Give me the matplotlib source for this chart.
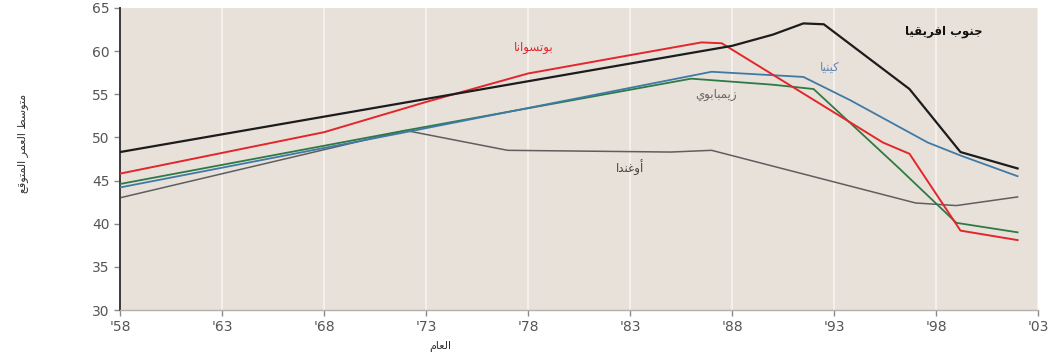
import matplotlib
matplotlib.use('Agg')
import matplotlib.pyplot as plt

plt.rcParams['font.family'] = ['DejaVu Sans']

# ---- data ----
sa_years = [1958, 1988, 1990, 1991.5, 1992.5, 1996.7, 1999.2, 2002]
sa_vals = [48.3, 60.6, 61.9, 63.2, 63.1, 55.6, 48.3, 46.4]

bw_years = [1958, 1968, 1973, 1978, 1982, 1986.5, 1987.5, 1995.4, 1996.7, 1999.2, 2002]
bw_vals = [45.8, 50.6, 54.1, 57.4, 59.1, 61.0, 60.9, 49.4, 48.1, 39.2, 38.1]

ke_years = [1958, 1972, 1987, 1991.5, 1993.8, 1997.6, 1999.2, 2002]
ke_vals = [44.2, 50.6, 57.6, 57.0, 54.3, 49.4, 47.9, 45.5]

zw_years = [1958, 1972, 1986, 1990, 1992, 1996.2, 1999, 2002]
zw_vals = [44.6, 50.8, 56.8, 56.1, 55.6, 46.4, 40.1, 39.0]

ug_years = [1958, 1972, 1977, 1985, 1987, 1997, 1999, 2002]
ug_vals = [43.0, 50.8, 48.5, 48.3, 48.5, 42.4, 42.1, 43.1]

x_ticks = [1958, 1963, 1968, 1973, 1978, 1983, 1988, 1993, 1998, 2003]
x_tick_labels = ["'58", "'63", "'68", "'73", "'78", "'83", "'88", "'93", "'98", "'03"]
y_ticks = [30, 35, 40, 45, 50, 55, 60, 65]

label_sa = 'جنوب افريقيا'
label_bw = 'بوتسوانا'
label_ke = 'كينيا'
label_zw = 'زيمبابوي'
label_ug = 'أوغندا'
x_title = 'العام'
y_title = 'متوسط العمر المتوقع'

# ---- very small arabic shaper (matplotlib has no bidi / shaping) ----
FORMS = {
    'ا': (0xFE8D, 0xFE8E, None, None),
    'أ': (0xFE83, 0xFE84, None, None),
    'ب': (0xFE8F, 0xFE90, 0xFE91, 0xFE92),
    'ت': (0xFE95, 0xFE96, 0xFE97, 0xFE98),
    'ج': (0xFE9D, 0xFE9E, 0xFE9F, 0xFEA0),
    'د': (0xFEA9, 0xFEAA, None, None),
    'ر': (0xFEAD, 0xFEAE, None, None),
    'ز': (0xFEAF, 0xFEB0, None, None),
    'س': (0xFEB1, 0xFEB2, 0xFEB3, 0xFEB4),
    'ط': (0xFEC1, 0xFEC2, 0xFEC3, 0xFEC4),
    'ع': (0xFEC9, 0xFECA, 0xFECB, 0xFECC),
    'غ': (0xFECD, 0xFECE, 0xFECF, 0xFED0),
    'ف': (0xFED1, 0xFED2, 0xFED3, 0xFED4),
    'ق': (0xFED5, 0xFED6, 0xFED7, 0xFED8),
    'ك': (0xFED9, 0xFEDA, 0xFEDB, 0xFEDC),
    'ل': (0xFEDD, 0xFEDE, 0xFEDF, 0xFEE0),
    'م': (0xFEE1, 0xFEE2, 0xFEE3, 0xFEE4),
    'ن': (0xFEE5, 0xFEE6, 0xFEE7, 0xFEE8),
    'و': (0xFEED, 0xFEEE, None, None),
    'ي': (0xFEF1, 0xFEF2, 0xFEF3, 0xFEF4),
}


def ar(text):
    out = []
    for i, c in enumerate(text):
        if c not in FORMS:
            out.append(c)
            continue
        prev = text[i - 1] if i > 0 else ''
        nxt = text[i + 1] if i + 1 < len(text) else ''
        j_prev = prev in FORMS and FORMS[prev][2] is not None
        j_next = FORMS[c][2] is not None and nxt in FORMS
        iso, fin, ini, med = FORMS[c]
        if j_prev and j_next:
            cp = med
        elif j_prev:
            cp = fin
        elif j_next:
            cp = ini
        else:
            cp = iso
        out.append(chr(cp))
    return ''.join(out)[::-1]


# ---- figure ----
fig = plt.figure(figsize=(10.54, 3.58), dpi=100)
ax = fig.add_axes([0.1139, 0.134, 0.8709, 0.844])
ax.set_facecolor('#e8e1da')

for x in x_ticks:
    ax.axvline(x, color='#f6f2ee', lw=1.2, zorder=0)

ax.plot(ug_years, ug_vals, color='#5e5e5e', lw=1.1, zorder=2)
ax.plot(zw_years, zw_vals, color='#2e7a45', lw=1.3, zorder=3)
ax.plot(ke_years, ke_vals, color='#3f7aa6', lw=1.3, zorder=3)
ax.plot(bw_years, bw_vals, color='#e3262b', lw=1.4, zorder=4)
ax.plot(sa_years, sa_vals, color='#1c1c1c', lw=1.6, zorder=5)

ax.text(1978.3, 60.4, ar(label_bw), color='#e3262b', fontsize=8.5, ha='center', va='center')
ax.text(1998.4, 62.3, ar(label_sa), color='#111111', fontsize=8.5, fontweight='bold', ha='center', va='center')
ax.text(1992.8, 58.1, ar(label_ke), color='#5d86b5', fontsize=8.5, ha='center', va='center')
ax.text(1987.2, 55.0, ar(label_zw), color='#666666', fontsize=8.5, ha='center', va='center')
ax.text(1983.0, 46.4, ar(label_ug), color='#444444', fontsize=8.5, ha='center', va='center')

ax.set_xlim(1958, 2003)
ax.set_ylim(30, 65)
ax.set_xticks(x_ticks)
ax.set_xticklabels(x_tick_labels)
ax.set_yticks(y_ticks)
ax.tick_params(axis='both', colors='#8a8a8a', labelcolor='#555555', labelsize=10, length=4, width=1)
ax.tick_params(axis='x', pad=3)

for side in ['top', 'right']:
    ax.spines[side].set_visible(False)
ax.spines['left'].set_color('#3a3a3a')
ax.spines['left'].set_linewidth(1.4)
ax.spines['bottom'].set_color('#b5b0ab')
ax.spines['bottom'].set_linewidth(1.0)

ax.set_ylabel(ar(y_title), fontsize=8, color='#333333')
ax.yaxis.set_label_coords(-0.100, 0.55)
fig.text(440 / 1054, 1 - 346 / 358, ar(x_title), fontsize=8, color='#333333', ha='center', va='center')

fig.savefig('out.png', dpi=100)
